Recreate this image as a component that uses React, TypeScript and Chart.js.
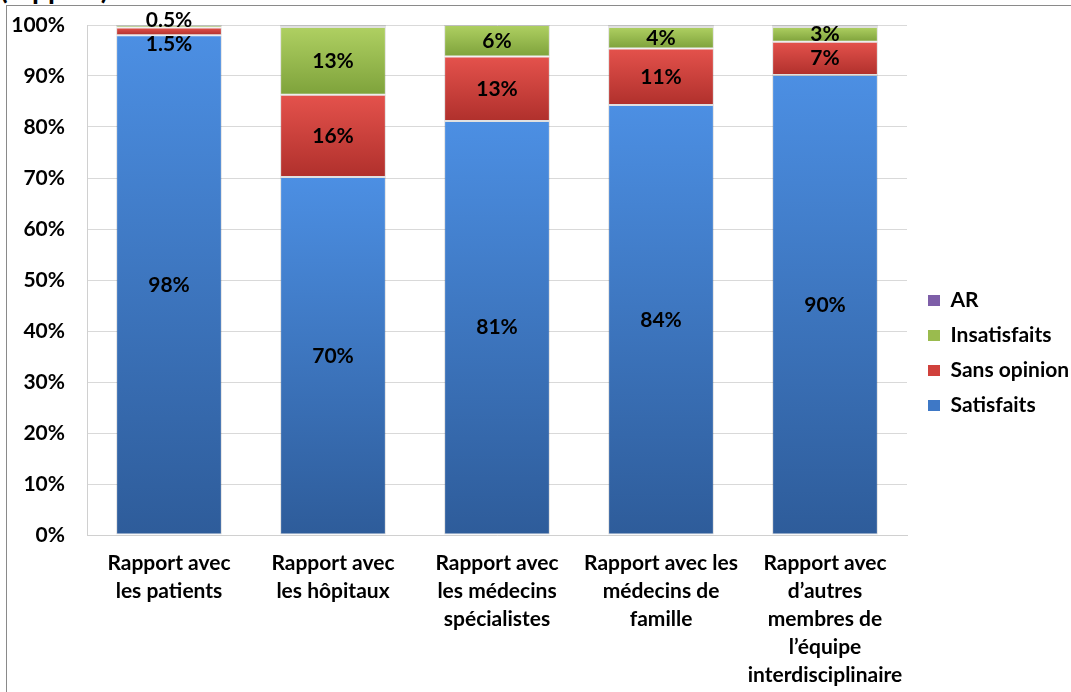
import React, { useEffect, useRef } from "react";
import { Chart, registerables } from "chart.js";

Chart.register(...registerables);

const categories: string[][] = [
  ["Rapport avec", "les patients"],
  ["Rapport avec", "les hôpitaux"],
  ["Rapport avec", "les médecins", "spécialistes"],
  ["Rapport avec les", "médecins de", "famille"],
  ["Rapport avec", "d’autres", "membres de", "l’équipe", "interdisciplinaire"],
];

const seriesNames = ["Satisfaits", "Sans opinion", "Insatisfaits", "AR"];
const satisfaits = [98, 70.2, 81.2, 84.3, 90.2];
const sansOpinion = [1.5, 16.1, 12.6, 11.1, 6.5];
const insatisfaits = [0.5, 13.3, 6.2, 4.2, 2.9];
const ar = [0, 0.4, 0, 0.4, 0.4];
const showLabels = [true, true, true, false];

const seriesValues = [satisfaits, sansOpinion, insatisfaits, ar];

const gradTop = ["#4C8FE3", "#E4524C", "#AFD062", "#8D6DB6"];
const gradBottom = ["#2E5C9A", "#B0302C", "#7EA23B", "#6A4F90"];
const flatColors = ["#3E78C6", "#D0413C", "#9ABB4E", "#7E5EA8"];

const FONT = "Lato, 'Open Sans', sans-serif";
const FS = 21;

function gradientFor(s: number) {
  return (ctx: any) => {
    const chart = ctx.chart;
    const y = chart.scales && chart.scales.y;
    if (!y || ctx.type !== "data") return flatColors[s];
    const i = ctx.dataIndex;
    let base = 0;
    for (let k = 0; k < s; k++) base += seriesValues[k][i];
    const top = base + seriesValues[s][i];
    const p0 = y.getPixelForValue(top);
    const p1 = y.getPixelForValue(base);
    if (!(p1 - p0 > 0.5) || !isFinite(p0) || !isFinite(p1)) return flatColors[s];
    const g = chart.ctx.createLinearGradient(0, p0, 0, p1);
    g.addColorStop(0, gradTop[s]);
    g.addColorStop(1, gradBottom[s]);
    return g;
  };
}

const segLabels = {
  id: "segLabels",
  afterDatasetsDraw(chart: any) {
    const c = chart.ctx;
    c.save();
    c.font = `bold ${FS}px ${FONT}`;
    c.fillStyle = "#000";
    c.textAlign = "center";
    c.textBaseline = "middle";
    chart.data.datasets.forEach((ds: any, di: number) => {
      if (!showLabels[di]) return;
      const meta = chart.getDatasetMeta(di);
      meta.data.forEach((bar: any, i: number) => {
        const v = ds.data[i];
        if (!v) return;
        const { x, y, base } = bar.getProps(["x", "y", "base"], true);
        let cy = (y + base) / 2;
        if (v < 1) cy = y - 5;
        else if (v < 2) cy = base + 9;
        const txt = (v < 2 ? v.toFixed(1) : String(Math.round(v))) + "%";
        c.fillText(txt, x, cy);
      });
    });
    c.restore();
  },
};

export default function App() {
  const ref = useRef<HTMLCanvasElement>(null);

  useEffect(() => {
    if (!ref.current) return;
    const chart = new Chart(ref.current, {
      type: "bar",
      data: {
        labels: categories,
        datasets: seriesNames.map((name, s) => ({
          label: name,
          data: seriesValues[s],
          backgroundColor: gradientFor(s),
          borderColor: "rgba(0,0,0,0.12)",
          borderWidth: 1,
          borderSkipped: false,
          barPercentage: 0.645,
          categoryPercentage: 1,
        })),
      },
      options: {
        responsive: false,
        animation: false,
        layout: { padding: { top: 14, left: 0, right: 0, bottom: 0 } },
        plugins: {
          tooltip: { enabled: false },
          title: { display: false },
          legend: {
            position: "right",
            reverse: true,
            maxWidth: 157,
            labels: {
              boxWidth: 12,
              boxHeight: 11,
              padding: 14,
              color: "#000",
              font: { family: FONT, size: FS, weight: "bold" },
              generateLabels: (ch: any) => {
                const items = Chart.defaults.plugins.legend.labels.generateLabels(ch);
                return items.map((it: any) => ({
                  ...it,
                  fillStyle: flatColors[it.datasetIndex],
                  strokeStyle: flatColors[it.datasetIndex],
                  lineWidth: 0,
                }));
              },
            },
          },
        },
        scales: {
          x: {
            stacked: true,
            grid: { display: false, drawTicks: false },
            border: { display: true, color: "#d0d0d0" },
            ticks: {
              color: "#000",
              padding: 14,
              maxRotation: 0,
              autoSkip: false,
              font: { family: FONT, size: FS, weight: "bold", lineHeight: 28 / FS },
            },
            afterFit: (scale: any) => {
              scale.height = 157;
            },
          },
          y: {
            stacked: true,
            min: 0,
            max: 100,
            grid: { color: "#d9d9d9", drawTicks: false },
            border: { display: true, color: "#d0d0d0" },
            ticks: {
              stepSize: 10,
              color: "#000",
              padding: 22,
              font: { family: FONT, size: FS, weight: "bold" },
              callback: (v: any) => v + "%",
            },
            afterFit: (scale: any) => {
              scale.width = 87;
              scale.paddingTop = 25;
              scale.paddingBottom = 12;
            },
          },
          y2: {
            position: "right",
            display: true,
            grid: { display: false, drawTicks: false },
            border: { display: false },
            ticks: { display: false },
            afterFit: (scale: any) => {
              scale.width = 7;
            },
          },
        },
      },
      plugins: [segLabels],
    } as any);
    return () => chart.destroy();
  }, []);

  return (
    <div
      style={{
        position: "absolute",
        left: 0,
        top: 0,
        width: 1071,
        height: 692,
        overflow: "hidden",
        background: "#fff",
      }}
    >
      <div
        style={{
          position: "absolute",
          left: 0,
          top: -28,
          font: `bold 28px ${FONT}`,
          lineHeight: "32px",
          color: "#000",
          whiteSpace: "nowrap",
        }}
      >
        (rapport)
      </div>
      <div
        style={{
          position: "absolute",
          left: 6,
          top: 5,
          width: 2000,
          height: 2000,
          borderLeft: "1px solid #8a8a8a",
          borderTop: "1px solid #8a8a8a",
        }}
      />
      <canvas
        ref={ref}
        width={1071}
        height={692}
        style={{ position: "absolute", left: 0, top: 0, width: 1071, height: 692 }}
      />
    </div>
  );
}
